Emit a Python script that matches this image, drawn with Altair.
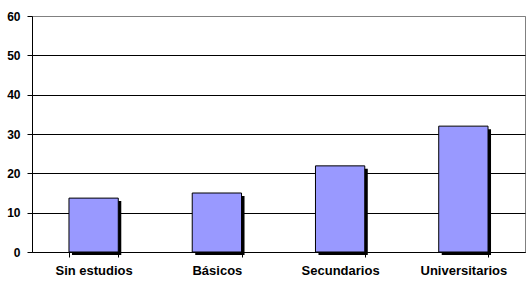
import altair as alt
import pandas as pd

categorias = ["Sin estudios", "Básicos", "Secundarios", "Universitarios"]
valores = [13.7, 15.0, 21.9, 32.0]

df = pd.DataFrame({"cat": categorias, "val": valores})

x = alt.X("cat:N", sort=categorias, title=None,
          scale=alt.Scale(paddingInner=0.6, paddingOuter=0.3),
          axis=alt.Axis(labelAngle=0, tickBand="extent", tickSize=5, tickColor="black",
                        domainColor="black", labelFont="Liberation Sans", labelFontWeight="bold",
                        labelFontSize=13, labelColor="black", labelPadding=7, grid=False))
y = alt.Y("val:Q", title=None,
          scale=alt.Scale(domain=[0, 60], nice=False),
          axis=alt.Axis(values=[0, 10, 20, 30, 40, 50, 60], tickSize=5, tickColor="black",
                        domainColor="black", labelFont="Liberation Sans", labelFontWeight="bold",
                        labelFontSize=12, labelColor="black", labelPadding=7,
                        grid=True,
                        gridColor={"condition": {"test": "datum.value == 60", "value": "#808080"},
                                   "value": "black"},
                        gridOpacity=1))

base = alt.Chart(df)

shadow = base.mark_bar(color="black", xOffset=3, x2Offset=3, yOffset=3).encode(x=x, y=y)
bars = base.mark_bar(color="#9999FF", stroke="black", strokeWidth=1).encode(x=x, y=y)

chart = (shadow + bars).properties(
    width=493, height=236,
    autosize=alt.AutoSizeParams(type="none"),
    padding={"left": 32, "top": 16, "right": 5, "bottom": 36},
    background="white",
).configure_view(stroke="#808080", strokeWidth=1)

chart.save("out.html", embed_options={"renderer": "svg", "actions": False})
